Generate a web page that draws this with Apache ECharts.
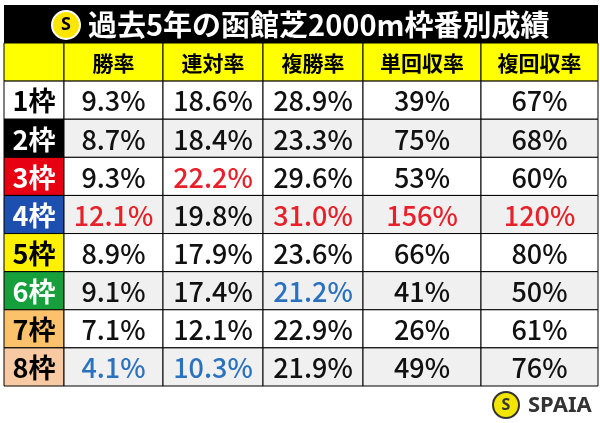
<!DOCTYPE html>
<html><head><meta charset="utf-8">
<script src="https://cdn.jsdelivr.net/npm/echarts@6/dist/echarts.min.js"></script>
<style>html,body{margin:0;background:#fff}#c{width:600px;height:423px}</style>
</head><body><div id="c"></div>
<script>
const title = '過去5年の函館芝2000m枠番別成績';
const headers = ['勝率','連対率','複勝率','単回収率','複回収率'];
const frames = ['1枠','2枠','3枠','4枠','5枠','6枠','7枠','8枠'];
const winRate = ['9.3%','8.7%','9.3%','12.1%','8.9%','9.1%','7.1%','4.1%'];
const top2Rate = ['18.6%','18.4%','22.2%','19.8%','17.9%','17.4%','12.1%','10.3%'];
const top3Rate = ['28.9%','23.3%','29.6%','31.0%','23.6%','21.2%','22.9%','21.9%'];
const winReturn = ['39%','75%','53%','156%','66%','41%','26%','49%'];
const placeReturn = ['67%','68%','60%','120%','80%','50%','61%','76%'];
// highlight: 1 = red (best), 2 = blue (worst)
const highlight = [
 [0,0,0,0,0],[0,0,0,0,0],[0,1,0,0,0],[1,0,1,1,1],
 [0,0,0,0,0],[0,0,2,0,0],[0,0,0,0,0],[2,2,0,0,0]];
const frameBg = ['#ffffff','#000000','#e60012','#1d4fb0','#fff100','#16a03c','#fbc26b','#f8caa4'];
const frameFg = ['#000','#fff','#fff','#fff','#000','#fff','#000','#000'];
const colEdges = [0,60,159,259,359,477,594];

const cols = [winRate, top2Rate, top3Rate, winReturn, placeReturn];
const cells = [];
cells.push([0,0,'','#ffff00','#000',21]);
headers.forEach((h,i)=>cells.push([i+1,0,h,'#ffff00','#000',21]));
frames.forEach((f,r)=>{
  cells.push([0,r+1,f,frameBg[r],frameFg[r],27]);
  cols.forEach((c,i)=>{
    const hl = highlight[r][i];
    cells.push([i+1,r+1,c[r], r%2? '#f0f0f0':'#ffffff', hl===1?'#e8202a':hl===2?'#2a72c0':'#111',27]);
  });
});
const chart = echarts.init(document.getElementById('c'));
chart.setOption({
  animation:false,
  grid:{left:4,top:43,width:594,height:343},
  xAxis:{type:'value',min:0,max:594,show:false},
  yAxis:{type:'value',min:0,max:9,inverse:true,show:false},
  graphic:[
    {type:'rect',shape:{x:4,y:5,width:594,height:38},style:{fill:'#000'}},
    {type:'circle',shape:{cx:66,cy:25,r:14},style:{fill:'#ffe600',stroke:'#fff',lineWidth:2}},
    {type:'text',style:{x:66,y:25,text:'S',fill:'#000',font:'bold 18px "Noto Sans"',align:'center',verticalAlign:'middle'}},
    {type:'text',style:{x:88,y:25,text:title,fill:'#fff',font:'bold 29px "Noto Sans CJK JP"',verticalAlign:'middle'}},
    {type:'circle',shape:{cx:506,cy:405,r:13},style:{fill:'#f2e600',stroke:'#333',lineWidth:2}},
    {type:'text',style:{x:506,y:405,text:'S',fill:'#333',font:'bold 16px "Noto Sans"',align:'center',verticalAlign:'middle'}},
    {type:'text',style:{x:528,y:406,text:'SPAIA',fill:'#333',font:'bold 22px "Noto Sans"',verticalAlign:'middle'}}
  ],
  series:[{
    type:'custom',
    data:cells,
    renderItem:(params,api)=>{
      const c = cells[params.dataIndex];
      const p0 = api.coord([colEdges[c[0]], c[1]]);
      const p1 = api.coord([colEdges[c[0]+1], c[1]+1]);
      return {type:'group',children:[
        {type:'rect',shape:{x:p0[0],y:p0[1],width:p1[0]-p0[0],height:p1[1]-p0[1]},
         style:{fill:c[3],stroke:'#000',lineWidth:1}},
        {type:'text',style:{x:(p0[0]+p1[0])/2,y:(p0[1]+p1[1])/2+1,text:c[2],fill:c[4],
         font:(c[0]===0||c[1]===0?'bold ':'500 ')+c[5]+'px "Noto Sans CJK JP"',align:'center',verticalAlign:'middle'}}
      ]};
    }
  }]
});
</script></body></html>
